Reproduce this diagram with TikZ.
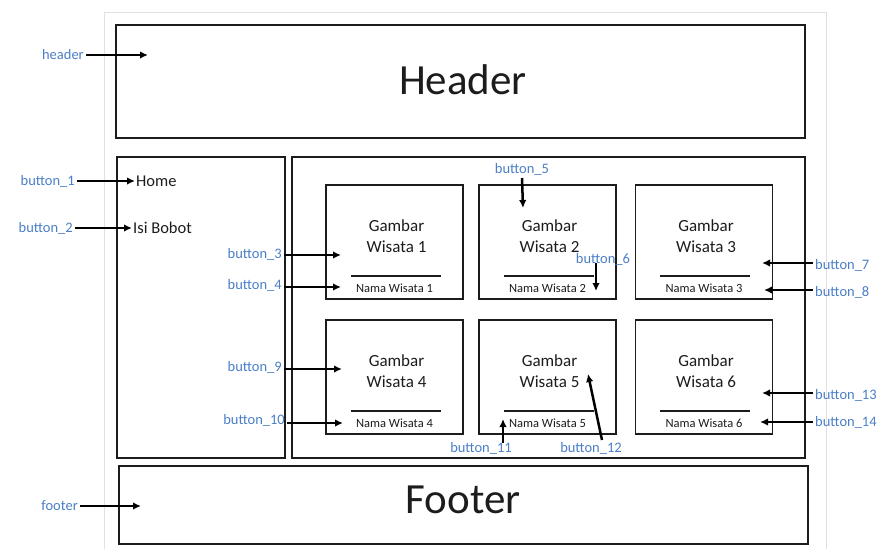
\documentclass[tikz,border=0pt]{standalone}
\usepackage{fontspec}
\setmainfont{Carlito}
\usetikzlibrary{arrows.meta}
\definecolor{lbl}{RGB}{74,126,199}
\definecolor{ink}{RGB}{28,28,28}
\definecolor{page}{RGB}{225,225,225}
\tikzset{
  box/.style={draw=ink, line width=1.8pt, inner sep=0pt},
  arr/.style={-{Latex[length=8pt,width=7.5pt]}, line width=2.5pt, draw=black},
  blab/.style={text=lbl, font=\fontsize{14.5}{16}\selectfont, inner sep=2pt},
  big/.style={font=\fontsize{43}{48}\selectfont, text=ink},
  side/.style={font=\fontsize{16.5}{19}\selectfont, text=ink, inner sep=1pt},
  gtxt/.style={font=\fontsize{17}{21}\selectfont, text=ink, align=center, inner sep=0pt},
  nama/.style={font=\fontsize{12.5}{14}\selectfont, text=ink, inner sep=0pt},
  sepl/.style={draw=ink, line width=1.6pt},
}
\newcommand\wcard[4]{%
  \node[box, minimum width=137pt, minimum height=114pt] (#1) at (#2,#3) {};
  \node[gtxt] (#1g) at (#2+2,#3-6) {Gambar\\Wisata #4};
  \coordinate (#1l) at (#2-44,#3+34);
  \coordinate (#1r) at (#2+46,#3+34);
  \draw[sepl] (#1l) -- (#1r);
  \node[nama] (#1n) at (#2,#3+46) {Nama Wisata #4};
}
\begin{document}
\begin{tikzpicture}[x=1pt,y=-1pt]
\useasboundingbox (0,0) rectangle (885,549);
% faint page outline
\draw[page, line width=1pt] (104,549) -- (104,12) -- (826,12) -- (826,549);
% main boxes
\node[box, minimum width=689pt, minimum height=113pt] (header) at (460.5,81.5) {};
\node[big] (headertxt) at (463,80) {Header};
\node[box, minimum width=168pt, minimum height=301pt] (sidebar) at (201,307.5) {};
\node[box, minimum width=513pt, minimum height=301pt] (content) at (548.5,307.5) {};
\node[box, minimum width=689pt, minimum height=78pt] (footer) at (463.5,505) {};
\node[big] (footertxt) at (463,500) {Footer};
% sidebar items
\node[side, anchor=west] (home) at (135,181) {Home};
\node[side, anchor=west] (isi) at (132,228) {Isi Bobot};
% cards
\wcard{c1}{394.5}{242}{1}
\wcard{c2}{547.5}{242}{2}
\wcard{c3}{704}{242}{3}
\wcard{c4}{394.5}{377}{4}
\wcard{c5}{547.5}{377}{5}
\wcard{c6}{704}{377}{6}
% target coordinates
\coordinate (th) at (148,55);
\coordinate (t3) at (341,255);
\coordinate (t4) at (341,287);
\coordinate (t5) at (523,208);
\coordinate (s6) at (596,263);
\coordinate (t6) at (596,291);
\coordinate (t7) at (762,263);
\coordinate (t8) at (764,290);
\coordinate (t9) at (342,369);
\coordinate (t10) at (343,423);
\coordinate (s11) at (503,443);
\coordinate (t11) at (503,419);
\coordinate (s12) at (602,440);
\coordinate (t12) at (588,374);
\coordinate (t13) at (762,393);
\coordinate (t14) at (760,422);
\coordinate (tf) at (141,506);
% labels
\node[blab, anchor=east] (lh) at (86,55) {header};
\node[blab, anchor=east] (l1) at (77,181) {button\_1};
\node[blab, anchor=east] (l2) at (75,228) {button\_2};
\node[blab, anchor=east] (l3) at (284,254) {button\_3};
\node[blab, anchor=east] (l4) at (284,285) {button\_4};
\node[blab, anchor=south] (l5) at (522,178) {button\_5};
\node[blab] (l6) at (603,259) {button\_6};
\node[blab, anchor=west] (l7) at (813,265) {button\_7};
\node[blab, anchor=west] (l8) at (813,292) {button\_8};
\node[blab, anchor=east] (l9) at (284,367) {button\_9};
\node[blab, anchor=east] (l10) at (287,420) {button\_10};
\node[blab] (l11) at (481,448) {button\_11};
\node[blab] (l12) at (591,448) {button\_12};
\node[blab, anchor=west] (l13) at (813,395) {button\_13};
\node[blab, anchor=west] (l14) at (813,422) {button\_14};
\node[blab, anchor=east] (lf) at (80,506) {footer};
% arrows
\draw[arr] (lh.east) -- (th);
\draw[arr] (l1.east) -- (home.west);
\draw[arr] (l2.east) -- (isi.west);
\draw[arr] (l3.east |- t3) -- (t3);
\draw[arr] (l4.east |- t4) -- (t4);
\draw[arr] (l5.south) -- (t5);
\draw[arr] (s6) -- (t6);
\draw[arr] (l7.west |- t7) -- (t7);
\draw[arr] (l8.west |- t8) -- (t8);
\draw[arr] (l9.east |- t9) -- (t9);
\draw[arr] (l10.east |- t10) -- (t10);
\draw[arr] (s11) -- (t11);
\draw[arr] (s12) -- (t12);
\draw[arr] (l13.west |- t13) -- (t13);
\draw[arr] (l14.west |- t14) -- (t14);
\draw[arr] (lf.east) -- (tf);
\end{tikzpicture}
\end{document}
